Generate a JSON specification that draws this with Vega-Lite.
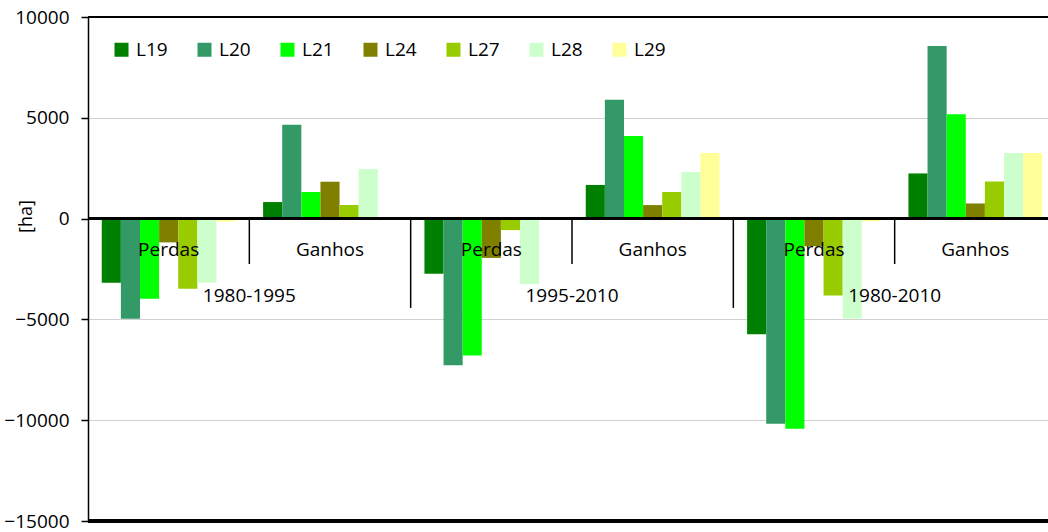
{
  "$schema": "https://vega.github.io/schema/vega-lite/v6.json",
  "width": 968,
  "height": 504,
  "autosize": "none",
  "padding": {"left": 88, "top": 17, "right": 0, "bottom": 11},
  "background": "white",
  "config": {"view": {"stroke": null}, "font": "Open Sans"},
  "datasets": {
    "bars": [
      {"cat": "1980-1995 Perdas", "series": "L19", "value": -3180},
      {"cat": "1980-1995 Perdas", "series": "L20", "value": -4970},
      {"cat": "1980-1995 Perdas", "series": "L21", "value": -3980},
      {"cat": "1980-1995 Perdas", "series": "L24", "value": -1180},
      {"cat": "1980-1995 Perdas", "series": "L27", "value": -3480},
      {"cat": "1980-1995 Perdas", "series": "L28", "value": -3170},
      {"cat": "1980-1995 Perdas", "series": "L29", "value": -150},
      {"cat": "1980-1995 Ganhos", "series": "L19", "value": 820},
      {"cat": "1980-1995 Ganhos", "series": "L20", "value": 4650},
      {"cat": "1980-1995 Ganhos", "series": "L21", "value": 1320},
      {"cat": "1980-1995 Ganhos", "series": "L24", "value": 1830},
      {"cat": "1980-1995 Ganhos", "series": "L27", "value": 670},
      {"cat": "1980-1995 Ganhos", "series": "L28", "value": 2460},
      {"cat": "1980-1995 Ganhos", "series": "L29", "value": 0},
      {"cat": "1995-2010 Perdas", "series": "L19", "value": -2740},
      {"cat": "1995-2010 Perdas", "series": "L20", "value": -7270},
      {"cat": "1995-2010 Perdas", "series": "L21", "value": -6790},
      {"cat": "1995-2010 Perdas", "series": "L24", "value": -1950},
      {"cat": "1995-2010 Perdas", "series": "L27", "value": -570},
      {"cat": "1995-2010 Perdas", "series": "L28", "value": -3240},
      {"cat": "1995-2010 Perdas", "series": "L29", "value": 0},
      {"cat": "1995-2010 Ganhos", "series": "L19", "value": 1670},
      {"cat": "1995-2010 Ganhos", "series": "L20", "value": 5900},
      {"cat": "1995-2010 Ganhos", "series": "L21", "value": 4100},
      {"cat": "1995-2010 Ganhos", "series": "L24", "value": 670},
      {"cat": "1995-2010 Ganhos", "series": "L27", "value": 1320},
      {"cat": "1995-2010 Ganhos", "series": "L28", "value": 2310},
      {"cat": "1995-2010 Ganhos", "series": "L29", "value": 3260},
      {"cat": "1980-2010 Perdas", "series": "L19", "value": -5740},
      {"cat": "1980-2010 Perdas", "series": "L20", "value": -10170},
      {"cat": "1980-2010 Perdas", "series": "L21", "value": -10420},
      {"cat": "1980-2010 Perdas", "series": "L24", "value": -1370},
      {"cat": "1980-2010 Perdas", "series": "L27", "value": -3810},
      {"cat": "1980-2010 Perdas", "series": "L28", "value": -4960},
      {"cat": "1980-2010 Perdas", "series": "L29", "value": -130},
      {"cat": "1980-2010 Ganhos", "series": "L19", "value": 2240},
      {"cat": "1980-2010 Ganhos", "series": "L20", "value": 8560},
      {"cat": "1980-2010 Ganhos", "series": "L21", "value": 5170},
      {"cat": "1980-2010 Ganhos", "series": "L24", "value": 750},
      {"cat": "1980-2010 Ganhos", "series": "L27", "value": 1840},
      {"cat": "1980-2010 Ganhos", "series": "L28", "value": 3260},
      {"cat": "1980-2010 Ganhos", "series": "L29", "value": 3260}
    ],
    "cats": [
      {"cat": "1980-1995 Perdas", "kind": "Perdas"},
      {"cat": "1980-1995 Ganhos", "kind": "Ganhos"},
      {"cat": "1995-2010 Perdas", "kind": "Perdas"},
      {"cat": "1995-2010 Ganhos", "kind": "Ganhos"},
      {"cat": "1980-2010 Perdas", "kind": "Perdas"},
      {"cat": "1980-2010 Ganhos", "kind": "Ganhos"}
    ],
    "periods": [
      {"cat": "1980-1995 Ganhos", "period": "1980-1995"},
      {"cat": "1995-2010 Ganhos", "period": "1995-2010"},
      {"cat": "1980-2010 Ganhos", "period": "1980-2010"}
    ],
    "periodStarts": [
      {"cat": "1995-2010 Perdas"},
      {"cat": "1980-2010 Perdas"}
    ]
  },
  "layer": [
    {
      "data": {"name": "bars"},
      "mark": {"type": "rule", "color": "black", "strokeWidth": 2},
      "encoding": {"y": {"datum": 10000}}
    },
    {
      "data": {"name": "bars"},
      "mark": {"type": "bar", "clip": true},
      "encoding": {
        "x": {
          "field": "cat", "type": "nominal", "axis": null,
          "scale": {
            "domain": ["1980-1995 Perdas", "1980-1995 Ganhos", "1995-2010 Perdas", "1995-2010 Ganhos", "1980-2010 Perdas", "1980-2010 Ganhos"],
            "paddingInner": 0, "paddingOuter": 0
          }
        },
        "xOffset": {
          "field": "series", "type": "nominal",
          "scale": {"paddingInner": 0, "paddingOuter": 0.72}
        },
        "y": {
          "field": "value", "type": "quantitative", "title": "[ha]",
          "scale": {"domain": [-15000, 10000], "nice": false, "zero": false},
          "axis": {
            "values": [-15000, -10000, -5000, 0, 5000, 10000],
            "format": "d",
            "labelFontSize": 19, "labelColor": "black", "labelPadding": 12,
            "tickColor": "black", "tickSize": 7, "tickWidth": 1.5,
            "domainColor": "black", "domainWidth": 1.5,
            "grid": true, "gridColor": "#d0d0d0", "gridWidth": 1,
            "titleFontSize": 18, "titleFontWeight": "normal", "titleColor": "black",
            "titleX": -62, "titleY": 199, "titleAngle": -90, "titleAlign": "center", "titleBaseline": "middle"
          }
        },
        "color": {
          "field": "series", "type": "nominal",
          "scale": {
            "domain": ["L19", "L20", "L21", "L24", "L27", "L28", "L29"],
            "range": ["#008000", "#339966", "#00ff00", "#808000", "#99cc00", "#ccffcc", "#ffff99"]
          },
          "legend": {
            "title": null, "orient": "none", "direction": "horizontal",
            "legendX": 24, "legendY": 23, "padding": 0,
            "symbolType": "square", "symbolSize": 196, "symbolStrokeWidth": 0, "symbolOpacity": 1,
            "labelFontSize": 19, "labelColor": "black", "labelOffset": 5,
            "columnPadding": 27
          }
        }
      }
    },
    {
      "data": {"name": "bars"},
      "mark": {"type": "rule", "color": "black", "strokeWidth": 2},
      "encoding": {"y": {"datum": 0}}
    },
    {
      "data": {"name": "bars"},
      "mark": {"type": "rule", "color": "black", "strokeWidth": 2.5},
      "encoding": {"y": {"datum": -15000}}
    },
    {
      "data": {"name": "cats"},
      "transform": [{"filter": "datum.kind === 'Ganhos'"}],
      "mark": {"type": "rule", "color": "black", "strokeWidth": 1.5},
      "encoding": {
        "x": {"field": "cat", "type": "nominal", "bandPosition": 0},
        "y": {"datum": 0},
        "y2": {"datum": -2250}
      }
    },
    {
      "data": {"name": "periodStarts"},
      "mark": {"type": "rule", "color": "black", "strokeWidth": 1.5},
      "encoding": {
        "x": {"field": "cat", "type": "nominal", "bandPosition": 0},
        "y": {"datum": 0},
        "y2": {"datum": -4430}
      }
    },
    {
      "data": {"name": "cats"},
      "mark": {"type": "text", "fontSize": 19, "color": "black", "baseline": "alphabetic", "align": "center"},
      "encoding": {
        "x": {"field": "cat", "type": "nominal", "bandPosition": 0.5},
        "y": {"datum": -1850},
        "text": {"field": "kind"}
      }
    },
    {
      "data": {"name": "periods"},
      "mark": {"type": "text", "fontSize": 19, "color": "black", "baseline": "alphabetic", "align": "center"},
      "encoding": {
        "x": {"field": "cat", "type": "nominal", "bandPosition": 0},
        "y": {"datum": -4120},
        "text": {"field": "period"}
      }
    }
  ]
}
